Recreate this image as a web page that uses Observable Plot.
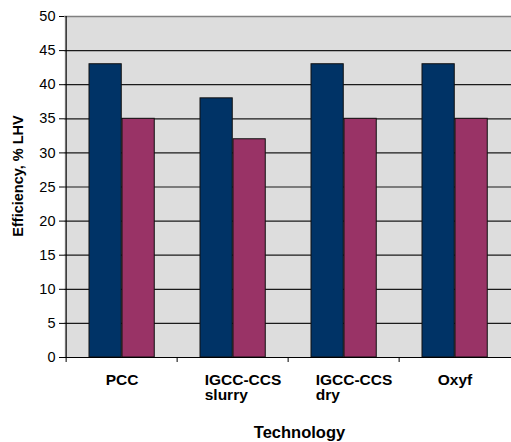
<!DOCTYPE html>
<html><head><meta charset="utf-8">
<script src="https://cdn.jsdelivr.net/npm/d3@7"></script>
<script src="https://cdn.jsdelivr.net/npm/@observablehq/plot@0.6"></script>
<style>body{margin:0;background:#fff}</style>
</head><body><div id="chart"></div>
<script>
const technologies = ["PCC", "IGCC-CCS\nslurry", "IGCC-CCS\ndry", "Oxyf"];
const series1 = [43, 38, 43, 43];
const series2 = [35, 32, 35, 35];
const yTicks = [0, 5, 10, 15, 20, 25, 30, 35, 40, 45, 50];
const xTitle = "Technology";
const yTitle = "Efficiency, % LHV";

const W = 511, H = 442, mL = 64, mR = 0, mT = 16, mB = 85;
const bw = (W - mL - mR) / technologies.length;
const rows1 = technologies.map((t, i) => ({tech: t, value: series1[i]}));
const rows2 = technologies.map((t, i) => ({tech: t, value: series2[i]}));
const yMax = yTicks[yTicks.length - 1];
const font = "'Liberation Sans', Arial, Helvetica, sans-serif";

const chart = Plot.plot({
  width: W, height: H,
  marginLeft: mL, marginRight: mR, marginTop: mT, marginBottom: mB,
  style: {fontFamily: font, fontSize: "14.5px", color: "#000", background: "#fff"},
  x: {domain: technologies, padding: 0, axis: null},
  y: {domain: [0, yMax], ticks: yTicks, tickSize: 5, tickPadding: 4, label: null},
  marks: [
    Plot.frame({fill: "#dddddd", stroke: "none"}),
    Plot.ruleY(yTicks.filter(v => v > 0 && v < yMax), {stroke: "#1a1a1a", strokeWidth: 1.2}),
    Plot.ruleY([yMax], {stroke: "#808080", strokeWidth: 1.5}),
    Plot.barY(rows1, {x: "tech", y: "value", fill: "#003366", stroke: "#111", strokeWidth: 1,
      insetLeft: 23, insetRight: bw - 56}),
    Plot.barY(rows2, {x: "tech", y: "value", fill: "#993366", stroke: "#111", strokeWidth: 1,
      insetLeft: 56, insetRight: bw - 89}),
    Plot.ruleY([0], {stroke: "#000", strokeWidth: 1.2}),
    Plot.ruleX([technologies[0]], {x: d => d, dx: -bw / 2, stroke: "#000", strokeWidth: 1.2}),
    Plot.ruleX(technologies, {x: d => d, y1: 0, y2: 0, insetBottom: -5, dx: -bw / 2, stroke: "#000"}),
    Plot.text(technologies.filter(t => !t.includes("\n")), {x: d => d, frameAnchor: "bottom",
      lineAnchor: "top", dy: 16, fontWeight: "bold", fontSize: 15.5}),
    Plot.text(technologies.filter(t => t.includes("\n")), {x: d => d, frameAnchor: "bottom",
      lineAnchor: "top", textAnchor: "start", dx: -28.3, dy: 16, lineHeight: 1,
      fontWeight: "bold", fontSize: 15.5}),
    Plot.text([xTitle], {frameAnchor: "bottom", lineAnchor: "top", textAnchor: "middle",
      dy: 69, dx: 11.5, fontWeight: "bold", fontSize: 16.5}),
    Plot.text([yTitle], {frameAnchor: "left", rotate: -90, textAnchor: "middle", lineAnchor: "middle",
      dx: -46, dy: -11, fontWeight: "bold", fontSize: 14.5})
  ]
});
document.getElementById("chart").append(chart);
</script>
</body></html>
